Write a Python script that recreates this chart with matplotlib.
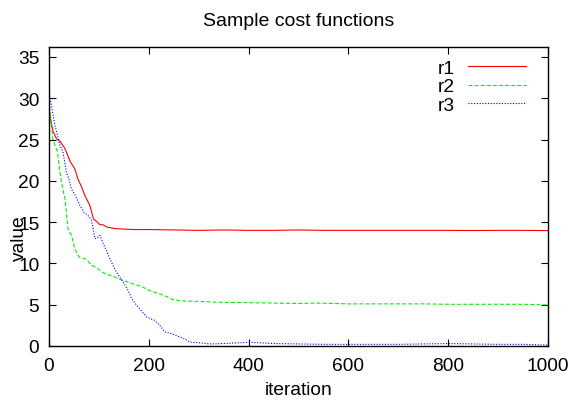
import matplotlib
matplotlib.use("Agg")
import matplotlib.pyplot as plt

plt.rcParams['font.family'] = ['Liberation Sans', 'DejaVu Sans']

# values
r1_x = [0, 3, 8, 15, 22, 32, 42, 52, 58, 65, 72, 82, 89, 95, 102, 109, 116, 125, 135,
        150, 170, 200, 250, 300, 350, 400, 450, 500, 550, 600, 650, 700, 750, 800,
        850, 900, 950, 1000]
r1_y = [28.7, 27.5, 26.0, 25.1, 24.8, 23.9, 22.4, 21.4, 20.2, 19.3, 18.2, 17.0, 15.4,
        15.1, 14.7, 14.65, 14.4, 14.3, 14.2, 14.15, 14.1, 14.1, 14.05, 14.0, 14.05,
        14.0, 14.0, 14.05, 14.0, 14.0, 14.0, 14.0, 14.0, 14.0, 13.98, 14.0, 14.0, 13.97]

r2_x = [0, 4, 8, 12, 17, 22, 27, 32, 38, 42, 45, 52, 58, 62, 68, 75, 85, 95, 105, 115,
        130, 142, 155, 169, 180, 189, 202, 222, 235, 249, 269, 300, 336, 400, 450, 500,
        537, 600, 650, 700, 750, 800, 850, 900, 950, 1000]
r2_y = [29.8, 27.0, 25.0, 24.3, 23.5, 21.0, 19.2, 17.8, 14.2, 13.7, 13.4, 11.7, 11.0,
        10.7, 10.6, 10.5, 9.8, 9.5, 9.0, 8.7, 8.4, 8.1, 7.8, 7.5, 7.3, 7.1, 6.7, 6.3,
        6.0, 5.6, 5.45, 5.4, 5.3, 5.25, 5.2, 5.15, 5.2, 5.1, 5.1, 5.1, 5.1, 5.05, 5.05,
        5.05, 5.05, 4.97]

r3_x = [0, 2, 5, 8, 12, 17, 22, 28, 35, 40, 45, 52, 62, 70, 78, 85, 92, 97, 102, 108,
        116, 124, 132, 140, 149, 158, 166, 176, 186, 196, 204, 212, 222, 232, 245, 256,
        270, 282, 300, 322, 350, 403, 450, 500, 550, 600, 650, 700, 750, 800, 850, 900,
        950, 1000]
r3_y = [31.0, 30.0, 29.1, 28.0, 26.7, 25.5, 24.3, 23.5, 21.0, 20.2, 19.0, 18.3, 17.0,
        16.2, 15.8, 15.3, 13.0, 13.1, 13.4, 12.5, 11.4, 10.3, 9.3, 8.5, 7.7, 6.8, 5.7,
        4.9, 4.2, 3.5, 3.3, 3.1, 2.5, 1.7, 1.5, 1.25, 0.9, 0.48, 0.4, 0.25, 0.3, 0.45,
        0.3, 0.25, 0.2, 0.2, 0.2, 0.2, 0.25, 0.3, 0.25, 0.2, 0.2, 0.12]

fig = plt.figure(figsize=(5.76, 4.10), dpi=100)
ax = fig.add_axes([49 / 576, 1 - 347 / 410, 499 / 576, 299 / 410])

ax.plot(r1_x, r1_y, color='#ff0000', lw=0.8, label='r1')
ax.plot(r2_x, r2_y, color='#00ee00', lw=0.8, dashes=(3.5, 2), label='r2')
ax.plot(r3_x, r3_y, color='#0000ff', lw=0.8, dashes=(1, 1.5), label='r3')

ax.set_xlim(0, 1000)
ax.set_ylim(0, 36.2)
ax.set_xticks([0, 200, 400, 600, 800, 1000])
ax.set_yticks([0, 5, 10, 15, 20, 25, 30, 35])
ax.tick_params(direction='in', length=5, width=0.8, labelsize=13.8,
               top=True, right=True)
ax.tick_params(axis='x', pad=8)
ax.tick_params(axis='y', pad=7)
for s in ax.spines.values():
    s.set_linewidth(1.0)

ax.set_title('Sample cost functions', fontsize=14, pad=16)
ax.set_xlabel('iteration', fontsize=13.8, labelpad=5)
ax.set_ylabel('value', fontsize=13.8)
ax.yaxis.set_label_coords(-0.042, 0.365)

ax.legend(loc='upper right', bbox_to_anchor=(0.98, 1.0), frameon=False,
          markerfirst=False, fontsize=13.8, handlelength=3, handletextpad=0.7,
          labelspacing=0.05, borderpad=0.15)

fig.savefig('out.png', dpi=100)
